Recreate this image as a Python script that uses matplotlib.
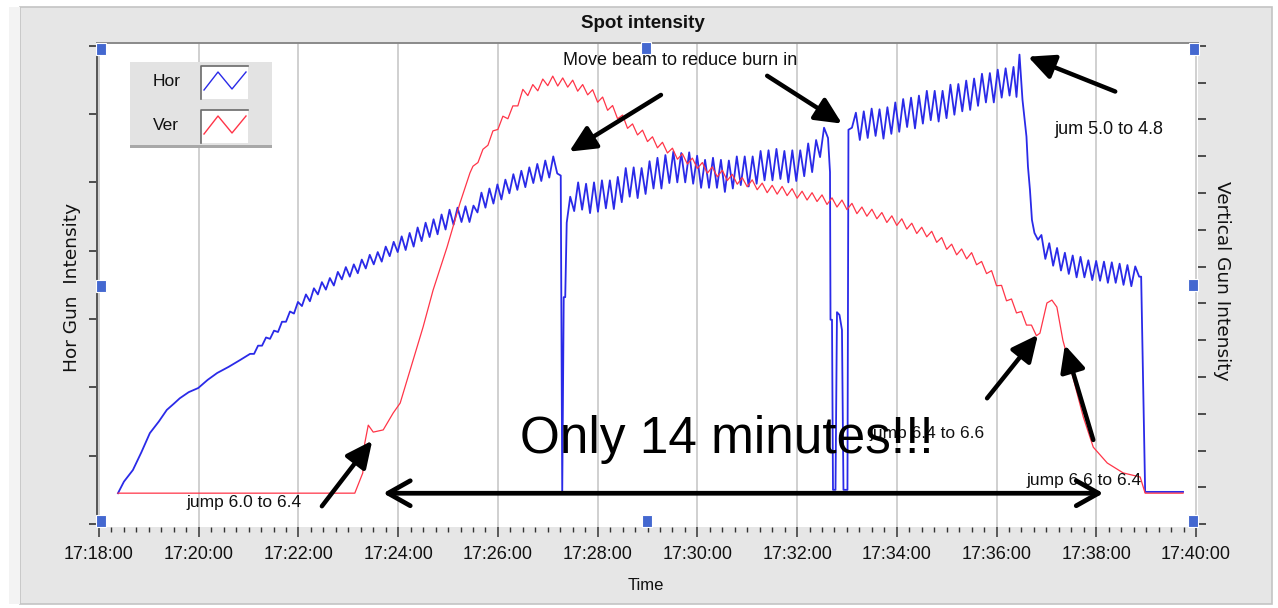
"""Spot intensity trend: horizontal and vertical gun intensity, 17:18-17:40."""
import numpy as np
import matplotlib
matplotlib.use("Agg")
import matplotlib.pyplot as plt
from matplotlib.patches import Rectangle
from matplotlib.ticker import MultipleLocator, FuncFormatter
from matplotlib.colors import LinearSegmentedColormap

plt.rcParams["font.family"] = ["Liberation Sans", "DejaVu Sans"]

# time in minutes after 17:18:00, Hor on left scale (0-7), Ver on right scale (0-13)
blue_start_t = [0.38, 0.50, 0.68, 0.85, 1.02, 1.20, 1.36, 1.50, 1.62, 1.80, 1.99, 2.18, 2.37, 2.60, 2.83]
blue_start_v = [0.45, 0.62, 0.79, 1.05, 1.33, 1.50, 1.67, 1.76, 1.84, 1.93, 1.99, 2.11, 2.21, 2.30, 2.40]

# sampled every ~5 s, 17:21:02 - 17:27:11
blue_rise_v = [2.49, 2.49, 2.61, 2.61, 2.73, 2.71, 2.83, 2.81, 2.96, 2.96,
               3.11, 3.08, 3.25, 3.19, 3.36, 3.26, 3.45, 3.36, 3.54, 3.43,
               3.60, 3.49, 3.69, 3.58, 3.76, 3.62, 3.80, 3.67, 3.87, 3.74,
               3.94, 3.80, 3.98, 3.84, 4.06, 3.92, 4.13, 3.98, 4.21, 4.01,
               4.26, 4.06, 4.34, 4.14, 4.41, 4.20, 4.46, 4.24, 4.53, 4.31,
               4.60, 4.38, 4.63, 4.42, 4.65, 4.42, 4.66, 4.56, 4.85, 4.63,
               4.91, 4.69, 4.97, 4.75, 5.04, 4.84, 5.12, 4.89, 5.17, 4.93,
               5.22, 4.99, 5.27, 5.02, 5.32, 5.07, 5.38, 5.13]
blue_gap1_t = [9.26, 9.29, 9.32, 9.35, 9.38]
blue_gap1_v = [5.10, 0.45, 3.32, 3.32, 4.41]

# 17:27:27 - 17:32:37
blue_mid_v = [4.79, 4.58, 5.00, 4.60, 4.98, 4.55, 5.00, 4.57, 5.03, 4.62,
              5.03, 4.61, 5.08, 4.71, 5.21, 4.79, 5.22, 4.77, 5.21, 4.83,
              5.31, 4.91, 5.36, 4.91, 5.40, 4.99, 5.45, 5.00, 5.43, 5.00,
              5.44, 4.98, 5.39, 4.92, 5.33, 4.92, 5.36, 4.92, 5.33, 4.86,
              5.32, 4.91, 5.38, 4.96, 5.38, 4.94, 5.38, 4.98, 5.46, 5.03,
              5.47, 5.03, 5.49, 5.05, 5.46, 5.00, 5.47, 5.02, 5.47, 5.09,
              5.57, 5.15, 5.62, 5.37, 5.80, 5.65]
blue_gap2_t = [14.66, 14.67, 14.70, 14.72, 14.77, 14.80, 14.85, 14.90, 14.93, 15.01, 15.03]
blue_gap2_v = [5.15, 2.99, 2.99, 0.50, 0.50, 3.10, 3.06, 2.84, 0.50, 0.50, 5.77]

# 17:33:06 - 17:36:20
blue_high_v = [5.80, 6.02, 5.62, 6.04, 5.65, 6.08, 5.68, 6.07, 5.64, 6.10,
               5.71, 6.17, 5.74, 6.22, 5.81, 6.24, 5.79, 6.27, 5.86, 6.34,
               5.91, 6.34, 5.89, 6.34, 5.94, 6.43, 5.99, 6.44, 6.04, 6.49,
               6.06, 6.52, 6.12, 6.59, 6.17, 6.60, 6.17, 6.65, 6.24, 6.67,
               6.27, 6.69]
blue_fall_t = [18.40, 18.46, 18.52, 18.60, 18.63, 18.67, 18.71, 18.76, 18.83]
blue_fall_v = [6.25, 6.87, 6.21, 5.67, 5.23, 4.89, 4.45, 4.26, 4.16]

# 17:36:54 - 17:38:52
blue_low_v = [4.23, 3.88, 4.11, 3.78, 4.04, 3.71, 3.97, 3.66, 3.93, 3.61,
              3.91, 3.61, 3.86, 3.57, 3.85, 3.56, 3.84, 3.53, 3.83, 3.53,
              3.81, 3.50, 3.79, 3.48, 3.77, 3.62]
blue_end_t = [20.90, 20.94, 20.98, 21.74]
blue_end_v = [3.62, 2.06, 0.47, 0.47]

red_start_t = [0.38, 5.13, 5.29, 5.33, 5.40, 5.50, 5.70, 5.90, 6.04, 6.30, 6.50, 6.70, 6.98, 7.24, 7.44]
red_start_v = [0.84, 0.84, 1.39, 2.20, 2.69, 2.50, 2.56, 3.02, 3.29, 4.46, 5.36, 6.36, 7.53, 8.73, 9.55]

# 17:25:30 - 17:36:48, every 6 s
red_mid_v = [9.73, 9.83, 10.19, 10.30, 10.69, 10.73, 11.09, 11.02, 11.37, 11.37,
             11.82, 11.65, 11.95, 11.78, 12.10, 11.92, 12.18, 11.91, 12.13, 11.88,
             12.07, 11.77, 11.95, 11.67, 11.81, 11.47, 11.61, 11.25, 11.38, 11.02,
             11.12, 10.76, 10.88, 10.58, 10.71, 10.40, 10.53, 10.23, 10.38, 10.09,
             10.22, 9.92, 10.07, 9.79, 9.95, 9.67, 9.83, 9.54, 9.71, 9.44,
             9.62, 9.34, 9.51, 9.24, 9.42, 9.17, 9.36, 9.09, 9.27, 9.01,
             9.21, 8.97, 9.18, 8.93, 9.12, 8.86, 9.05, 8.81, 9.01, 8.77,
             8.95, 8.69, 8.87, 8.62, 8.81, 8.55, 8.72, 8.44, 8.62, 8.37,
             8.56, 8.30, 8.47, 8.20, 8.38, 8.12, 8.30, 8.02, 8.18, 7.90,
             8.07, 7.81, 7.96, 7.66, 7.79, 7.47, 7.61, 7.32, 7.48, 7.21,
             7.38, 7.05, 7.14, 6.81, 6.89, 6.48, 6.49, 6.07, 6.12, 5.74,
             5.78, 5.41, 5.41, 5.12]
red_end_t = [18.87, 19.01, 19.11, 19.21, 19.33, 19.53, 19.74, 19.94, 20.22, 20.54, 20.88, 20.98, 21.74]
red_end_v = [5.19, 6.01, 6.09, 5.90, 5.00, 4.00, 2.91, 2.09, 1.66, 1.39, 1.28, 0.84, 0.84]

blue_t = np.concatenate([blue_start_t, np.linspace(3.03, 9.19, len(blue_rise_v)), blue_gap1_t,
                         np.linspace(9.45, 14.62, len(blue_mid_v)), blue_gap2_t,
                         np.linspace(15.10, 18.34, len(blue_high_v)), blue_fall_t,
                         np.linspace(18.90, 20.86, len(blue_low_v)), blue_end_t])
blue_v = np.concatenate([blue_start_v, blue_rise_v, blue_gap1_v, blue_mid_v, blue_gap2_v,
                         blue_high_v, blue_fall_v, blue_low_v, blue_end_v])
red_t = np.concatenate([red_start_t, np.linspace(7.50, 18.80, len(red_mid_v)), red_end_t])
red_v = np.concatenate([red_start_v, red_mid_v, red_end_v])

BLUE, RED = "#2a2ae8", "#ff3548"
W, H = 1278, 608


def fx(px):
    return px / W


def fy(py):
    return 1 - py / H


fig = plt.figure(figsize=(W / 100, H / 100), dpi=100, facecolor="white")
fig.patches.append(Rectangle((fx(20), fy(604)), fx(1272) - fx(20), fy(7) - fy(604),
                             transform=fig.transFigure, facecolor="#e6e6e6",
                             edgecolor="#c4c4c4", lw=1.2, zorder=-2))
fig.patches.append(Rectangle((fx(9), fy(604)), fx(11), fy(7) - fy(604),
                             transform=fig.transFigure, facecolor="#f3f3f3",
                             edgecolor="none", zorder=-2))

ax = fig.add_axes([fx(97), fy(527), fx(1198) - fx(97), fy(43) - fy(527)])
ax.set_facecolor("white")
ax2 = ax.twinx()

ax.set_xlim(-0.04, 22.04)
ax.set_ylim(-0.044, 7.04)
ax2.set_ylim(-0.08, 13.08)
ax.xaxis.set_major_locator(MultipleLocator(2))
ax.xaxis.set_minor_locator(MultipleLocator(0.25))
ax.xaxis.set_major_formatter(FuncFormatter(lambda t, _: f"17:{18 + int(round(t)):02d}:00"))
ax.yaxis.set_major_locator(MultipleLocator(1))
ax2.yaxis.set_major_locator(MultipleLocator(1))

ax.tick_params(axis="x", which="major", direction="out", length=7.5, width=1.1,
               color="#333333", pad=6, labelsize=13, labelcolor="#111111")
ax.tick_params(axis="x", which="minor", direction="out", length=3.8, width=1.0, color="#333333")
ax.tick_params(axis="y", direction="out", length=6, width=1.2, color="#333333", labelleft=False)
ax2.tick_params(axis="y", direction="out", length=6, width=1.2, color="#333333", labelright=False)

for s in ["right", "bottom"]:
    ax.spines[s].set_visible(False)
ax.spines["left"].set_color("#555555")
ax.spines["left"].set_linewidth(1.4)
ax.spines["top"].set_color("#8a8a8a")
ax.spines["top"].set_linewidth(1.4)
for s in ax2.spines.values():
    s.set_visible(False)

ax.set_axisbelow(True)
ax.grid(True, axis="x", which="major", color="#cdcdcd", lw=1.3)

ax.plot(blue_t, blue_v, color=BLUE, lw=1.3)
ax2.plot(red_t, red_v, color=RED, lw=0.9)

# callouts (positions on the Hor scale)
arrow_kw = dict(arrowstyle="-|>,head_length=0.8,head_width=0.38", lw=3.2, color="black",
                shrinkA=0, shrinkB=0, mutation_scale=20)


def callout(tail, tip):
    ax2.annotate("", xy=tip, xytext=tail, xycoords=ax.transData, textcoords=ax.transData,
                 arrowprops=arrow_kw, annotation_clip=False)


def note(x, y, s, size=12.5):
    ax2.text(x, y, s, transform=ax.transData, ha="center", va="center", fontsize=size,
             color="#111111")


note(11.65, 6.79, "Move beam to reduce burn in", 13)
callout((11.27, 6.28), (9.43, 5.45))
callout((13.40, 6.56), (14.90, 5.86))
callout((20.38, 6.33), (18.63, 6.84))
note(20.26, 5.77, "jum 5.0 to 4.8", 13)
note(2.91, 0.31, "jump 6.0 to 6.4")
callout((4.47, 0.26), (5.48, 1.22))
note(16.61, 1.33, "jump 6.4 to 6.6")
callout((17.81, 1.84), (18.83, 2.77))
callout((19.94, 1.23), (19.37, 2.62))
note(19.76, 0.64, "jump 6.6 to 6.4")
ax2.annotate("", xy=(20.14, 0.45), xytext=(5.70, 0.45), xycoords=ax.transData,
             textcoords=ax.transData, annotation_clip=False,
             arrowprops=dict(arrowstyle="<->,head_length=0.8,head_width=0.45", lw=3.4,
                             color="black", shrinkA=0, shrinkB=0, mutation_scale=20))
ax2.text(12.60, 1.23, "Only 14 minutes!!!", transform=ax.transData, ha="center",
         va="center", fontsize=37, color="black")

# legend panel
lax = fig.add_axes([fx(130), fy(148), fx(272) - fx(130), fy(62) - fy(148)])
lax.set_xlim(0, 142)
lax.set_ylim(86, 0)
lax.axis("off")
lax.add_patch(Rectangle((0, 0), 142, 86, facecolor="#e3e3e3", edgecolor="none"))
shade = LinearSegmentedColormap.from_list("shade", ["#ededed", "#c4c4c4", "#8c8c8c"])
lax.imshow(np.linspace(0, 1, 50)[None, :], cmap=shade, extent=(119, 142, 86, 0), aspect="auto")
lax.add_patch(Rectangle((0, 83), 142, 3, facecolor="#a8a8a8", edgecolor="none"))
for dy, name, col in [(0, "Hor", BLUE), (44, "Ver", RED)]:
    lax.add_patch(Rectangle((71, 4 + dy), 47, 33, facecolor="white", edgecolor="none"))
    lax.plot([71, 71, 118], [37 + dy, 4 + dy, 4 + dy], color="#6a6a6a", lw=1.2)
    lax.plot([74, 88, 102, 116], [28 + dy, 10 + dy, 27 + dy, 10 + dy], color=col, lw=1.0)
    lax.text(23, 20 + dy, name, va="center", ha="left", fontsize=12.5, color="#111111")

fig.text(fx(643), fy(23), "Spot intensity", ha="center", va="center", fontsize=13.5,
         fontweight="bold", color="#111111")
fig.text(fx(72), fy(287), "Hor Gun  Intensity", rotation=90, ha="center", va="center",
         fontsize=13.3, family="DejaVu Sans", color="#111111")
fig.text(fx(1222), fy(281), "Vertical Gun Intensity", rotation=270, ha="center", va="center",
         fontsize=13.3, family="DejaVu Sans", color="#111111")
fig.text(fx(646), fy(585), "Time", ha="center", va="center", fontsize=12, color="#111111")

# selection handles
for hx, hy in [(101, 49), (646, 48), (1194, 49), (101, 286), (1193, 285),
               (101, 521), (647, 521), (1193, 521)]:
    fig.patches.append(Rectangle((fx(hx - 5), fy(hy + 6)), fx(10), 12 / H,
                                 transform=fig.transFigure, facecolor="#4468d0",
                                 edgecolor="white", lw=0.8, zorder=5))

fig.savefig("out.png", dpi=100)
